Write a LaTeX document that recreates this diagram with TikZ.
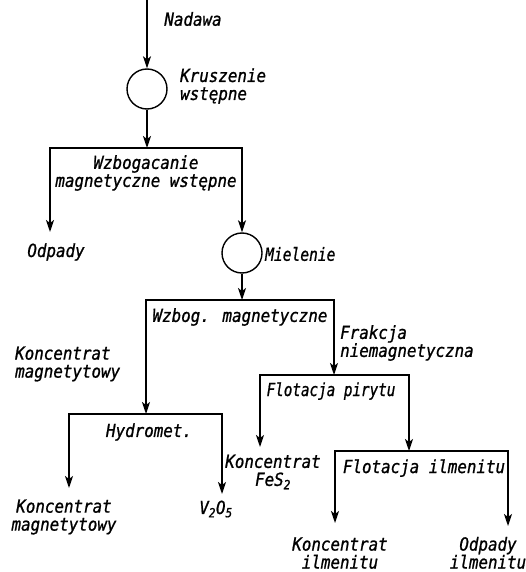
\documentclass[tikz,border=0pt]{standalone}
\usepackage{graphicx}
\usepackage{fontspec}
\setmainfont{DejaVu Sans Mono}[FakeStretch=0.88,FakeBold=1]
\usetikzlibrary{arrows.meta}
\begin{document}
\begin{tikzpicture}[x=1pt,y=-1pt,
  tip/.tip={Stealth[length=12pt,width=8pt,inset=3pt]},
  arr/.style={line width=1.6pt,-tip},
  arrb/.style={line width=1.6pt,line join=miter,tip-tip},
  lbl/.style={font=\itshape\fontsize{18}{18}\selectfont, inner sep=0pt},
  proc/.style={circle,draw,line width=1.4pt,minimum size=40pt,inner sep=0pt}]
\useasboundingbox (0,0) rectangle (525,572);

% process circles
\node[proc] (c1) at (147,89) {};
\node[proc] (c2) at (242,253) {};

% coordinates
\coordinate (in) at (147,0);
\coordinate (b1l) at (50,148);
\coordinate (b1m) at (147,148);
\coordinate (b1r) at (242,148);
\coordinate (t1) at (50,232);
\coordinate (b2l) at (146,300);
\coordinate (b2m) at (242,300);
\coordinate (b2r) at (334,300);
\coordinate (b3l) at (69,414);
\coordinate (b3m) at (146,414);
\coordinate (b3r) at (222,414);
\coordinate (t3l) at (69,488);
\coordinate (t3r) at (222,494);
\coordinate (b4l) at (260,375);
\coordinate (b4m) at (334,375);
\coordinate (b4r) at (409,375);
\coordinate (t4l) at (260,447);
\coordinate (b5l) at (335,451);
\coordinate (b5m) at (409,451);
\coordinate (b5r) at (508,451);
\coordinate (t5l) at (335,523);
\coordinate (t5r) at (508,526);

% connectors
\draw[arr] (in) -- (c1);
\draw[arr] (c1) -- (b1m);
\draw[arrb] (t1) -- (b1l) -- (b1r) -- (c2);
\draw[arr] (c2) -- (b2m);
\draw[arrb] (b3m) -- (b2l) -- (b2r) -- (b4m);
\draw[arrb] (t3l) -- (b3l) -- (b3r) -- (t3r);
\draw[arrb] (t4l) -- (b4l) -- (b4r) -- (b5m);
\draw[arrb] (t5l) -- (b5l) -- (b5r) -- (t5r);

% labels
\node[lbl] (nadawa) at (193,19) {Nadawa};
\node[lbl,anchor=west,align=left] (krusz) at (180,86) {Kruszenie\\wstępne};
\node[lbl,align=center] (wzb1) at (146,173) {Wzbogacanie\\magnetyczne wstępne};
\node[lbl] (odp1) at (56,252) {Odpady};
\node[lbl,anchor=west] (miel) at (265,254) {\scalebox{0.92}[1]{Mielenie}};
\node[lbl] (wzb2) at (240,317) {Wzbog. magnetyczne};
\node[lbl,anchor=west,align=left] (frak) at (340,343) {Frakcja\\niemagnetyczna};
\node[lbl,anchor=west,align=left] (kmag1) at (15,364) {Koncentrat\\magnetytowy};
\node[lbl] (flp) at (331,391) {\scalebox{0.9}[1]{Flotacja pirytu}};
\node[lbl] (hyd) at (149,432) {Hydromet.};
\node[lbl,align=center] (kfes) at (273,472) {Koncentrat\\FeS\textsubscript{2}};
\node[lbl] (fli) at (424,468) {Flotacja ilmenitu};
\node[lbl,align=center] (kmag2) at (64,517) {Koncentrat\\magnetytowy};
\node[lbl] (v2o5) at (216,509) {V\textsubscript{2}O\textsubscript{5}};
\node[lbl,align=center,anchor=south] (kilm) at (340,569) {Koncentrat\\ilmenitu};
\node[lbl,align=center,anchor=south] (oilm) at (488,569) {Odpady\\ilmenitu};
\end{tikzpicture}
\end{document}
